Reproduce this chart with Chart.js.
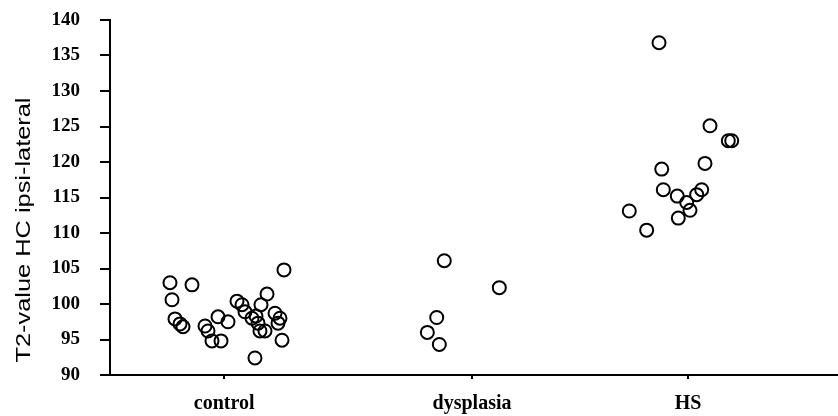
<!DOCTYPE html>
<html>
<head>
<meta charset="utf-8">
<script src="https://cdn.jsdelivr.net/npm/chart.js@4/dist/chart.umd.min.js"></script>
<style>
  body { margin: 0; background: #fff; }
  #wrap { width: 838px; height: 416px; position: relative; }
</style>
</head>
<body>
<div id="wrap"><canvas id="stripChart"></canvas></div>
<script>
// categorias e posição de cada uma no eixo x (0-100)
const categories = ['control', 'dysplasia', 'HS'];
const categoryPos = [15.7, 49.8, 79.5];
const yTicks = [90, 95, 100, 105, 110, 115, 120, 125, 130, 135, 140];
const yTitle = 'T2-value HC ipsi-lateral';

// pontos com jitter: x = posição, y = valor T2
const controlX = [8.25, 11.28, 8.53, 8.94, 9.63, 10.04, 13.07, 13.48, 14.03, 15.27, 14.86, 16.23, 17.47, 18.16,
                  18.57, 20.08, 20.36, 20.63, 21.32, 20.77, 21.6, 22.7, 23.38, 23.11, 23.66, 23.93, 19.94, 19.53];
const controlY = [103.0, 102.7, 100.6, 97.9, 97.2, 96.8, 96.9, 96.2, 94.8, 94.8, 98.2, 97.5, 100.4, 99.9,
                  98.9, 98.3, 97.3, 96.2, 96.2, 99.9, 101.4, 98.7, 98.0, 97.3, 94.9, 104.8, 92.4, 98.0];
const dysplasiaX = [45.98, 53.55, 44.94, 43.65, 45.3];
const dysplasiaY = [106.1, 102.3, 98.1, 96.0, 94.3];
const hsX = [75.52, 82.53, 85.05, 85.52, 81.84, 75.89, 76.11, 81.39, 80.7, 78.03, 79.33, 79.78, 78.17, 71.43, 73.82];
const hsY = [136.8, 125.1, 123.0, 123.0, 119.8, 119.0, 116.1, 116.1, 115.4, 115.2, 114.3, 113.2, 112.1, 113.1, 110.4];

function toPoints(xs, ys) {
    return xs.map(function(x, i) { return { x: x, y: ys[i] }; });
}

function makeSet(label, xs, ys) {
    return {
        label: label,
        data: toPoints(xs, ys),
        pointStyle: 'circle',
        pointRadius: 6.5,
        pointBorderWidth: 2,
        pointBorderColor: '#000',
        pointBackgroundColor: 'rgba(0,0,0,0)',
        showLine: false
    };
}

// título do eixo y desenhado à mão (esticado como no original)
const yTitlePlugin = {
    id: 'yTitlePlugin',
    afterDraw: function(chart) {
        const c = chart.ctx;
        c.save();
        c.font = '20px "Liberation Sans", Arial, sans-serif';
        c.fillStyle = '#000';
        c.textAlign = 'center';
        c.textBaseline = 'middle';
        const w = c.measureText(yTitle).width;
        c.translate(24, 230);
        c.rotate(-Math.PI / 2);
        c.scale(265 / w, 1);
        c.fillText(yTitle, 0, 0);
        c.restore();
    }
};

const serif = '"Liberation Serif", "Times New Roman", serif';

new Chart(document.getElementById('stripChart'), {
    type: 'scatter',
    data: {
        datasets: [
            makeSet('control', controlX, controlY),
            makeSet('dysplasia', dysplasiaX, dysplasiaY),
            makeSet('HS', hsX, hsY)
        ]
    },
    options: {
        responsive: true,
        maintainAspectRatio: false,
        animation: false,
        layout: { autoPadding: false, padding: { top: 20, right: 1, left: 0, bottom: 0 } },
        plugins: {
            legend: { display: false },
            tooltip: { enabled: false }
        },
        scales: {
            x: {
                type: 'linear',
                min: 0,
                max: 100,
                afterBuildTicks: function(scale) {
                    scale.ticks = categoryPos.map(function(v) { return { value: v }; });
                },
                afterFit: function(scale) {
                    scale.height = 41;
                    scale.paddingLeft = 0;
                    scale.paddingRight = 0;
                },
                ticks: {
                    color: '#000',
                    font: { family: serif, size: 20, weight: 'bold' },
                    padding: 13,
                    maxRotation: 0,
                    autoSkip: false,
                    callback: function(value, index) { return categories[index]; }
                },
                grid: {
                    drawOnChartArea: false,
                    drawTicks: true,
                    tickLength: 4,
                    color: '#000',
                    lineWidth: 2
                },
                border: { display: true, color: '#000', width: 2 }
            },
            y: {
                min: 90,
                max: 140,
                afterBuildTicks: function(scale) {
                    scale.ticks = yTicks.map(function(v) { return { value: v }; });
                },
                afterFit: function(scale) {
                    scale.width = 110;
                    scale.paddingTop = 0;
                    scale.paddingBottom = 0;
                },
                ticks: {
                    color: '#000',
                    font: { family: serif, size: 19, weight: 'bold' },
                    padding: 20
                },
                grid: {
                    drawOnChartArea: false,
                    drawTicks: true,
                    tickLength: 10,
                    color: '#000',
                    lineWidth: 2
                },
                border: { display: true, color: '#000', width: 2 }
            }
        }
    },
    plugins: [yTitlePlugin]
});
</script>
</body>
</html>
